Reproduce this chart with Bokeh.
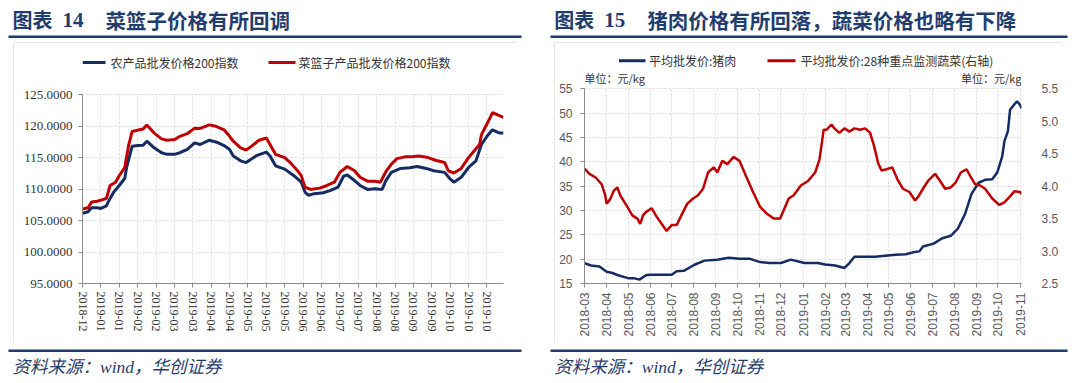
import math
import pandas as pd
from bokeh.plotting import figure
from bokeh.layouts import row, column
from bokeh.models import (Range1d, LinearAxis, FixedTicker, NumeralTickFormatter,
                          DatetimeTickFormatter, MonthsTicker, Label, BoxAnnotation)
from bokeh.embed import file_html
from bokeh.resources import INLINE

# ---------------- data: chart 14 (trading-day index, labels every 10 days) ----------------
X14_LABELS = ["2018-12", "2019-01", "2019-01", "2019-02", "2019-02", "2019-03", "2019-03",
              "2019-04", "2019-04", "2019-05", "2019-05", "2019-05", "2019-06", "2019-06",
              "2019-07", "2019-07", "2019-08", "2019-08", "2019-09", "2019-09", "2019-10",
              "2019-10", "2019-10"]
Y14_TICKS = [95, 100, 105, 110, 115, 120, 125]
SERIES14 = ["农产品批发价格200指数", "菜篮子产品批发价格200指数"]
TITLE14 = ("图表", "14", "菜篮子价格有所回调")

farm_day = [0, 3, 5, 8, 10, 13, 14, 17, 20, 23, 24, 27, 30, 33, 35, 39, 43, 46, 50, 53,
            57, 61, 64, 69, 73, 77, 80, 82, 86, 89, 91, 95, 100, 102, 105, 110, 115, 119, 121, 123,
            126, 131, 135, 139, 142, 144, 148, 151, 155, 159, 163, 165, 168, 173, 178, 182, 187, 191, 197, 200,
            202, 206, 210, 214, 217, 220, 223, 226, 227, 229]
farm_idx = [106.15, 106.4, 107.04, 107.04, 106.93, 107.35, 107.97, 109.54, 110.58, 111.73,
            113.44, 116.83, 116.93, 116.99, 117.61, 116.57, 115.79, 115.53, 115.53, 115.79,
            116.31, 117.35, 117.09, 117.77, 117.45, 116.93, 116.31, 115.27, 114.49, 114.22,
            114.64, 115.37, 115.89, 115.27, 113.70, 113.18, 112.14, 111.10, 109.54, 109.02,
            109.28, 109.43, 109.80, 110.32, 112.04, 112.25, 111.36, 110.58, 109.95, 110.06,
            109.95, 111.36, 112.66, 113.29, 113.39, 113.60, 113.29, 112.92, 112.66, 111.62,
            111.10, 111.88, 113.44, 114.49, 117.09, 118.39, 119.43, 119.02, 118.91, 118.91]

basket_day = [0, 3, 5, 8, 11, 13, 15, 18, 20, 23, 25, 27, 31, 33, 35, 39, 43, 46, 50, 53,
              57, 61, 64, 69, 73, 77, 80, 82, 86, 89, 92, 96, 100, 102, 105, 110, 113, 117, 119, 121,
              124, 129, 133, 137, 140, 144, 148, 151, 155, 159, 162, 165, 168, 171, 176, 179, 183, 188, 192, 197,
              199, 202, 206, 210, 213, 216, 217, 220, 222, 223, 226, 228, 229]
basket_idx = [106.83, 107.04, 107.97, 108.08, 108.34, 108.50, 110.58, 111.10, 112.14, 113.44,
              116.83, 119.17, 119.43, 119.54, 120.21, 118.91, 117.98, 117.77, 117.87, 118.39,
              118.81, 119.69, 119.64, 120.21, 119.95, 119.43, 118.39, 117.61, 116.57, 116.20,
              116.83, 117.77, 118.13, 117.09, 115.53, 115.01, 114.22, 112.92, 112.14, 110.32,
              109.95, 110.16, 110.58, 111.10, 112.66, 113.60, 112.92, 111.88, 111.26, 111.26,
              111.10, 112.77, 113.96, 114.85, 115.16, 115.16, 115.27, 115.01, 114.59, 114.22,
              112.92, 112.56, 113.29, 115.01, 116.05, 117.09, 118.65, 120.37, 121.52, 122.14,
              121.78, 121.52, 121.41]

# ---------------- data: chart 15 ----------------
SERIES15 = ["平均批发价:猪肉", "平均批发价:28种重点监测蔬菜(右轴)"]
TITLE15 = ("图表", "15", "猪肉价格有所回落，蔬菜价格也略有下降")
UNIT = "单位：元/kg"
SOURCE = "资料来源：wind，华创证券"
Y15_LEFT_TICKS = [15, 20, 25, 30, 35, 40, 45, 50, 55]
Y15_RIGHT_TICKS = [2.5, 3.0, 3.5, 4.0, 4.5, 5.0, 5.5]

pork_date = ["2018-03-01", "2018-03-10", "2018-03-22", "2018-04-01", "2018-04-08", "2018-04-17",
             "2018-05-01", "2018-05-09", "2018-05-17", "2018-05-26", "2018-06-01", "2018-06-14",
             "2018-07-01", "2018-07-08", "2018-07-18", "2018-08-02", "2018-08-16", "2018-09-03",
             "2018-09-19", "2018-10-04", "2018-10-18", "2018-11-02", "2018-11-16", "2018-12-01",
             "2018-12-15", "2019-01-03", "2019-01-22", "2019-02-01", "2019-02-15", "2019-02-28",
             "2019-03-07", "2019-03-14", "2019-03-29", "2019-04-12", "2019-04-26", "2019-05-11",
             "2019-05-25", "2019-06-04", "2019-06-13", "2019-06-18", "2019-07-03", "2019-07-15",
             "2019-07-27", "2019-08-06", "2019-08-16", "2019-08-25", "2019-09-04", "2019-09-13",
             "2019-09-23", "2019-09-30", "2019-10-07", "2019-10-10", "2019-10-15", "2019-10-18",
             "2019-10-25", "2019-10-28", "2019-11-01", "2019-11-03"]
pork_price = [19.2, 18.7, 18.5, 17.4, 17.2, 16.7, 16.1, 16.1, 15.8, 16.7, 16.8, 16.8,
              16.8, 17.5, 17.6, 18.85, 19.7, 19.9, 20.3, 20.1, 20.1, 19.4, 19.2, 19.2,
              19.9, 19.2, 19.2, 18.9, 18.7, 18.2, 19.2, 20.5, 20.5, 20.5, 20.7, 20.9,
              21.0, 21.4, 21.6, 22.6, 23.2, 24.3, 24.8, 26.3, 29.3, 33.4, 35.7, 36.3,
              36.4, 37.8, 41.1, 44.2, 46.3, 50.7, 52.0, 52.4, 51.7, 51.0]

veg_date = ["2018-03-01", "2018-03-08", "2018-03-17", "2018-03-25", "2018-03-30", "2018-04-01",
            "2018-04-06", "2018-04-11", "2018-04-16", "2018-04-20", "2018-04-30", "2018-05-07",
            "2018-05-14", "2018-05-18", "2018-05-22", "2018-05-26", "2018-06-03", "2018-06-10",
            "2018-06-17", "2018-06-24", "2018-07-01", "2018-07-08", "2018-07-16", "2018-07-23",
            "2018-07-31", "2018-08-07", "2018-08-14", "2018-08-21", "2018-08-29", "2018-09-03",
            "2018-09-10", "2018-09-17", "2018-09-26", "2018-10-04", "2018-10-13", "2018-10-23",
            "2018-11-02", "2018-11-11", "2018-11-21", "2018-11-30", "2018-12-05", "2018-12-12",
            "2018-12-19", "2018-12-29", "2019-01-08", "2019-01-18", "2019-01-24", "2019-01-26",
            "2019-01-30", "2019-02-03", "2019-02-10", "2019-02-14", "2019-02-21", "2019-02-28",
            "2019-03-07", "2019-03-14", "2019-03-22", "2019-03-29", "2019-04-05", "2019-04-10",
            "2019-04-14", "2019-04-16", "2019-04-21", "2019-04-28", "2019-05-06", "2019-05-13",
            "2019-05-21", "2019-05-30", "2019-06-07", "2019-06-11", "2019-06-18", "2019-06-25",
            "2019-07-05", "2019-07-12", "2019-07-19", "2019-07-27", "2019-08-03", "2019-08-10",
            "2019-08-18", "2019-08-23", "2019-08-30", "2019-09-06", "2019-09-13", "2019-09-23",
            "2019-10-03", "2019-10-10", "2019-10-17", "2019-10-24", "2019-11-01", "2019-11-03"]
veg_price = [4.27, 4.19, 4.13, 4.03, 3.86, 3.73, 3.80, 3.93, 3.98, 3.86, 3.68, 3.55,
             3.50, 3.42, 3.55, 3.60, 3.66, 3.53, 3.42, 3.31, 3.40, 3.40, 3.58, 3.73,
             3.81, 3.86, 3.96, 4.21, 4.29, 4.21, 4.39, 4.34, 4.45, 4.39, 4.16, 3.91,
             3.68, 3.58, 3.50, 3.50, 3.63, 3.81, 3.86, 4.01, 4.08, 4.21, 4.41, 4.56,
             4.87, 4.87, 4.95, 4.89, 4.82, 4.89, 4.84, 4.89, 4.87, 4.89, 4.82, 4.64,
             4.46, 4.36, 4.24, 4.26, 4.29, 4.11, 3.96, 3.91, 3.78, 3.83, 3.96, 4.08,
             4.19, 4.08, 3.96, 3.98, 4.06, 4.21, 4.26, 4.16, 4.03, 4.01, 3.96, 3.81,
             3.71, 3.75, 3.83, 3.92, 3.91, 3.88]

# ---------------- style ----------------
NAVY = "#142B63"
RED = "#C00000"
TITLE_C = "#1F3D6E"
GRID_C = "#d9d9d9"
AXIS_C = "#8c8c8c"
CJK = "Noto Sans CJK SC"
SERIF = "Liberation Serif"
BOX_STYLE = {"outline": "2px solid #dedede", "outline-offset": "-2px"}


def blank(w, h):
    p = figure(width=w, height=h, output_backend="svg", toolbar_location=None,
               x_range=Range1d(0, w), y_range=Range1d(0, h), min_border=0,
               x_axis_location=None, y_axis_location=None)
    p.grid.visible = False
    p.outline_line_color = None
    p.background_fill_color = "white"
    p.border_fill_color = "white"
    return p


def text(p, x, y, txt, size, color, font, style="normal", align="left"):
    """x, y: screen units measured from the bottom-left corner of p's frame."""
    p.add_layout(Label(x=x, y=y, x_units="screen", y_units="screen",
                       text=txt, text_font_size=size, text_color=color, text_font=font,
                       text_font_style=style, text_align=align, text_baseline="middle"))


def bar(p, x0, x1, y0, y1, color):
    """filled strip in screen units (frame bottom-left origin)."""
    p.add_layout(BoxAnnotation(left=x0, right=x1, bottom=y0, top=y1,
                               left_units="screen", right_units="screen",
                               top_units="screen", bottom_units="screen",
                               fill_color=color, fill_alpha=1, line_alpha=0))


def header(w, h, title, x_title, rx0, rx1):
    p = blank(w, h)
    text(p, x_title, h - 19, title[0], "20px", TITLE_C, CJK, "bold")
    text(p, x_title + 50, h - 19.5, title[1], "21px", TITLE_C, SERIF, "bold")
    text(p, x_title + 93, h - 19, title[2], "20.5px", TITLE_C, CJK, "bold")
    bar(p, rx0, rx1, h - 37.5, h - 35, TITLE_C)
    return p


def footer(w, h, x_text, rx0, rx1):
    p = blank(w, h)
    bar(p, rx0, rx1, h - 6.5, h - 4, TITLE_C)
    text(p, x_text, h - 21, SOURCE, "17.5px", TITLE_C, f"{SERIF}, {CJK}", "italic")
    return p


def style_chart(p):
    p.outline_line_color = None
    p.background_fill_color = "white"
    p.border_fill_color = "white"
    for g in (p.xgrid, p.ygrid):
        g.grid_line_color = GRID_C
        g.grid_line_dash = "2 2"
        g.grid_line_width = 1


def style_axis(ax, font, size, color):
    ax.axis_line_color = AXIS_C
    ax.major_tick_line_color = AXIS_C
    ax.major_tick_out = 4
    ax.major_tick_in = 0
    ax.minor_tick_line_color = None
    ax.major_label_text_font = font
    ax.major_label_text_font_size = size
    ax.major_label_text_color = color


def legend(p, names, items, y, colors, width):
    """legend: (line_x0, line_x1, text_x) per item, in frame screen units."""
    for (lx0, lx1, tx), name, col in zip(items, names, colors):
        bar(p, lx0, lx1, y - width / 2, y + width / 2, col)
        text(p, tx, y, name, "12px", "#333333", CJK)


# ================= chart 14 =================
W1, CH = 504, 301
FL1, FR1, FT1, FB1 = 69, 14, 4, 60
ppu1 = (CH - FT1 - FB1 - 45) / 30.0            # 192 px for 95..125
y14_top = 125 + 45 / ppu1                       # frame extends 45 px above 125 for the legend
p1 = figure(width=W1, height=CH, output_backend="svg", toolbar_location=None,
            x_range=Range1d(0, 229), y_range=Range1d(95, y14_top),
            min_border_left=FL1, min_border_right=FR1, min_border_top=FT1, min_border_bottom=FB1,
            margin=(2, 26, 2, 13), styles=BOX_STYLE)
style_chart(p1)
p1.line(farm_day, farm_idx, line_color=NAVY, line_width=3)
p1.line(basket_day, basket_idx, line_color=RED, line_width=3)

p1.yaxis.ticker = FixedTicker(ticks=Y14_TICKS)
p1.yaxis.formatter = NumeralTickFormatter(format="0.0000")
p1.yaxis.bounds = (95, 125)
x14_ticks = list(range(0, 10 * len(X14_LABELS), 10))
p1.xaxis.ticker = FixedTicker(ticks=x14_ticks)
p1.xaxis.major_label_overrides = {t: lab for t, lab in zip(x14_ticks, X14_LABELS)}
p1.xaxis.major_label_orientation = -math.pi / 2
style_axis(p1.xaxis[0], SERIF, "12px", "#333333")
style_axis(p1.yaxis[0], SERIF, "13px", "#333333")
p1.yaxis.major_label_standoff = 6
p1.xaxis.major_label_standoff = 4
p1.add_layout(BoxAnnotation(bottom=125 + 1.0 / ppu1, fill_color="white", fill_alpha=1, line_alpha=0))
legend(p1, SERIES14, [(0, 23, 28), (186, 213, 216)], 221, [NAVY, RED], 3)

# ================= chart 15 =================
W2 = 507
FL2, FR2, FT2, FB2 = 30, 37, 8, 57
data_h2 = 197.2
ppu2 = data_h2 / 40.0
extra2 = CH - FT2 - FB2 - data_h2               # frame extends above 55 for legend and units
y15_top = 55 + extra2 / ppu2
y15r_top = 5.5 + extra2 / (data_h2 / 3.0)
p2 = figure(width=W2, height=CH, output_backend="svg", toolbar_location=None, x_axis_type="datetime",
            x_range=Range1d(pd.Timestamp("2018-03-01"), pd.Timestamp("2019-11-03")),
            y_range=Range1d(15, y15_top),
            min_border_left=FL2, min_border_right=FR2, min_border_top=FT2, min_border_bottom=FB2,
            margin=(2, 16, 2, 11), styles=BOX_STYLE)
style_chart(p2)
p2.extra_y_ranges = {"veg": Range1d(2.5, y15r_top)}
p2.line(pd.to_datetime(pork_date), pork_price, line_color=NAVY, line_width=2.5)
p2.line(pd.to_datetime(veg_date), veg_price, line_color=RED, line_width=2.5, y_range_name="veg")

ly = p2.yaxis[0]
ly.ticker = FixedTicker(ticks=Y15_LEFT_TICKS)
ly.formatter = NumeralTickFormatter(format="0")
ly.bounds = (15, 55)
ry = LinearAxis(y_range_name="veg", ticker=FixedTicker(ticks=Y15_RIGHT_TICKS),
                formatter=NumeralTickFormatter(format="0.0"), bounds=(2.5, 5.5))
p2.add_layout(ry, "right")
mt = MonthsTicker(months=list(range(1, 13)))
p2.xaxis.ticker = mt
p2.xgrid.ticker = mt
p2.xaxis.formatter = DatetimeTickFormatter(months="%Y-%m", days="%Y-%m", years="%Y-%m")
p2.xaxis.major_label_orientation = math.pi / 2
for ax in (p2.xaxis[0], ly, ry):
    style_axis(ax, "Liberation Sans", "12px", "#595959")
ry.axis_line_color = None
ry.major_tick_line_color = None
ry.major_label_standoff = 16
ly.major_label_standoff = 8
p2.xaxis.major_label_standoff = 5
p2.add_layout(BoxAnnotation(bottom=55 + 1.0 / ppu2, fill_color="white", fill_alpha=1, line_alpha=0))
legend(p2, SERIES15, [(34.5, 61, 64.5), (183, 211, 216)], 222.7, [NAVY, RED], 3)
fw2 = W2 - FL2 - FR2
text(p2, 0, 206, UNIT, "11px", "#333333", CJK)
text(p2, fw2 - 3, 206, UNIT, "11px", "#333333", CJK, align="right")

# ================= headers / footers (page origin at the top-left corner) =================
HH, FH = 40, 38
h1 = header(543, HH, TITLE14, 12, 8, 521)
h2 = header(534, HH, TITLE15, 10.8, 7, 524)
f1 = footer(543, FH, 12, 8, 521)
f2 = footer(534, FH, 10.8, 7, 524)

layout = column(row(h1, h2), row(p1, p2), row(f1, f2))
open("out.html", "w").write(file_html(layout, INLINE))
